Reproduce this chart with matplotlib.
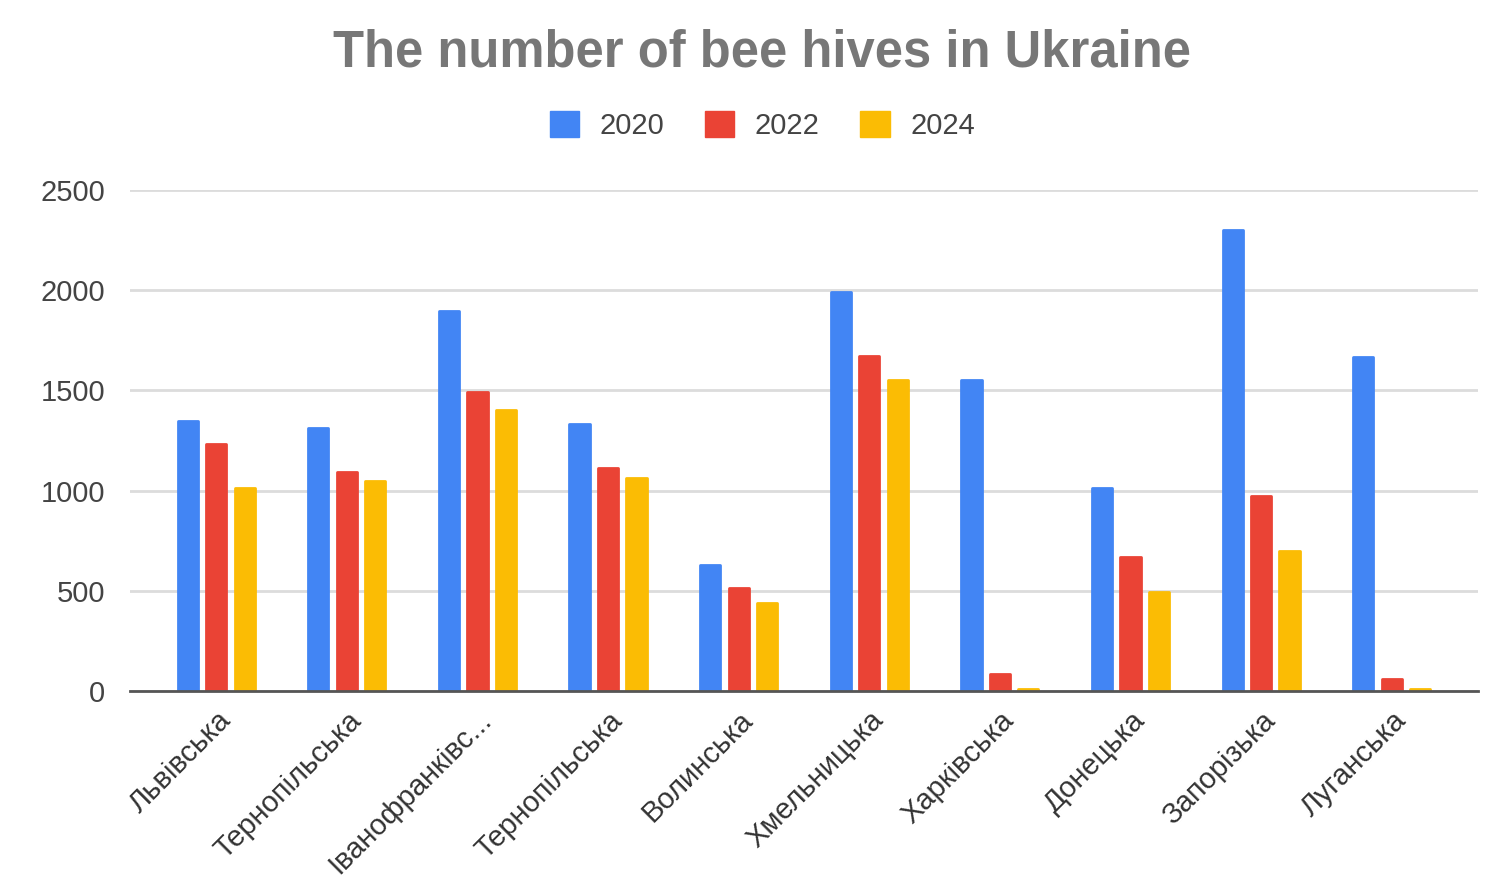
import numpy as np
import matplotlib.pyplot as plt
from matplotlib.patches import Patch
from matplotlib.transforms import ScaledTranslation

plt.rcParams['font.family'] = ['Liberation Sans', 'DejaVu Sans']

# дані
regions = ['Львівська', 'Тернопільська', 'Іванофранківс...', 'Тернопільська', 'Волинська',
           'Хмельницька', 'Харківська', 'Донецька', 'Запорізька', 'Луганська']
years = ['2020', '2022', '2024']
hives_2020 = [1345, 1310, 1895, 1330, 630, 1990, 1550, 1015, 2300, 1665]
hives_2022 = [1230, 1095, 1490, 1115, 515, 1670, 85, 670, 975, 60]
hives_2024 = [1015, 1050, 1400, 1065, 440, 1550, 12, 495, 700, 12]
colors = ['#4285f4', '#ea4335', '#fbbc04']

fig = plt.figure(figsize=(14.92, 8.77), dpi=100)
ax = fig.add_axes([0.0871, 0.2121, 0.9035, 0.5713])

x = np.arange(len(regions))
w = 0.155
step = 0.218
for k, vals in enumerate([hives_2020, hives_2022, hives_2024]):
    ax.bar(x + (k - 1) * step, vals, width=w, color=colors[k], edgecolor=colors[k],
           linewidth=2, joinstyle='round', zorder=3)

ax.set_xlim(-0.66, 9.66)
ax.set_ylim(0, 2500)
ax.set_yticks([0, 500, 1000, 1500, 2000, 2500])
ax.yaxis.grid(True, color='#dcdcdc', linewidth=2, zorder=0)
ax.tick_params(axis='y', length=0, pad=18, labelsize=21, labelcolor='#444444')
ax.tick_params(axis='x', length=0, pad=18)
for s in ['top', 'right', 'left']:
    ax.spines[s].set_visible(False)
ax.spines['bottom'].set_color('#555555')
ax.spines['bottom'].set_linewidth(2)
ax.spines['bottom'].set_zorder(4)

ax.set_xticks(x)
ax.set_xticklabels(regions, rotation=45, ha='right', va='center', rotation_mode='anchor',
                   fontsize=21, color='#333333')
off = ScaledTranslation(10 / 100, 0, fig.dpi_scale_trans)
for lbl in ax.get_xticklabels():
    lbl.set_transform(lbl.get_transform() + off)

fig.text(0.511, 0.94, 'The number of bee hives in Ukraine', ha='center', va='center',
         fontsize=36.5, fontweight='bold', color='#777777')

handles = [Patch(facecolor=c, edgecolor=c) for c in colors]
fig.legend(handles, years, loc='center', bbox_to_anchor=(0.511, 0.857), ncol=3,
           frameon=False, fontsize=21, labelcolor='#444444', handlelength=1.0,
           handleheight=1.0, handletextpad=0.7, columnspacing=1.4)

fig.savefig('out.png', dpi=100)
